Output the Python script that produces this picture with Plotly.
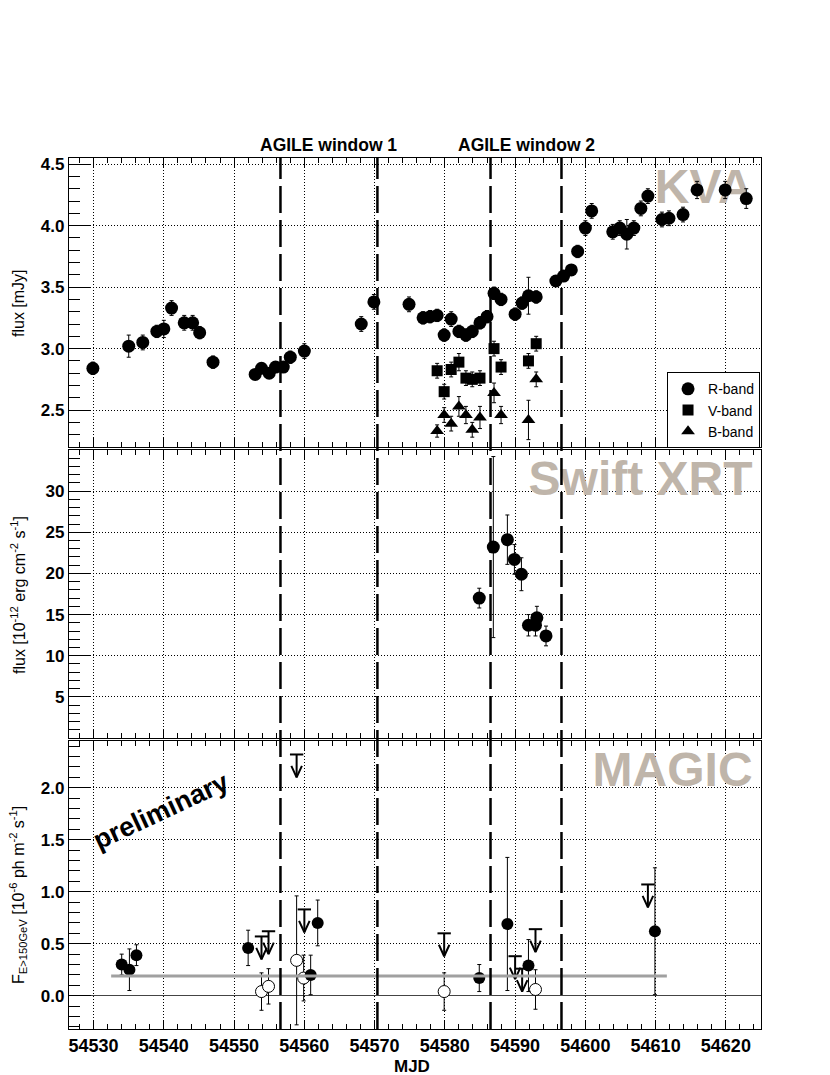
import numpy as np
import plotly.graph_objects as go
from plotly.subplots import make_subplots

# KVA optical (flux in mJy)
r_mjd = [54529.9, 54535.0, 54537.0, 54539.0, 54540.0, 54541.1, 54542.9, 54544.1, 54545.1, 54547.0,
         54553.0, 54553.9, 54555.0, 54555.9, 54557.0, 54558.0, 54560.0, 54568.1, 54569.9, 54574.9,
         54576.9, 54577.9, 54578.9, 54579.9, 54580.9, 54582.0, 54583.0, 54583.9, 54585.0, 54586.0,
         54587.0, 54588.0, 54590.0, 54591.0, 54591.9, 54593.0, 54595.8, 54596.9, 54598.0, 54598.9,
         54600.0, 54600.9, 54603.9, 54604.9, 54605.9, 54606.9, 54607.9, 54608.9, 54610.9, 54611.9,
         54613.9, 54615.9, 54619.9, 54622.9]
r_flux = [2.84, 3.02, 3.05, 3.14, 3.16, 3.33, 3.21, 3.21, 3.13, 2.89,
          2.79, 2.84, 2.80, 2.85, 2.85, 2.93, 2.98, 3.20, 3.38, 3.36,
          3.25, 3.26, 3.27, 3.11, 3.24, 3.14, 3.11, 3.14, 3.21, 3.26,
          3.45, 3.40, 3.28, 3.37, 3.43, 3.42, 3.55, 3.59, 3.64, 3.79,
          3.98, 4.12, 3.95, 3.98, 3.93, 3.98, 4.14, 4.24, 4.05, 4.06,
          4.09, 4.29, 4.29, 4.22]
r_err = [0.05, 0.09, 0.06, 0.05, 0.07, 0.06, 0.06, 0.06, 0.05, 0.05,
         0.04, 0.04, 0.04, 0.04, 0.04, 0.05, 0.06, 0.06, 0.06, 0.06,
         0.05, 0.05, 0.05, 0.05, 0.06, 0.05, 0.05, 0.05, 0.05, 0.05,
         0.05, 0.05, 0.05, 0.05, 0.15, 0.05, 0.04, 0.04, 0.04, 0.05,
         0.06, 0.06, 0.06, 0.06, 0.12, 0.06, 0.06, 0.06, 0.06, 0.06,
         0.06, 0.07, 0.07, 0.08]

v_mjd = [54578.9, 54579.9, 54580.9, 54582.0, 54583.0, 54583.9, 54585.0, 54587.0, 54588.0, 54591.9, 54593.0]
v_flux = [2.82, 2.65, 2.83, 2.89, 2.76, 2.75, 2.76, 3.00, 2.85, 2.90, 3.04]
v_err = [0.06, 0.06, 0.06, 0.07, 0.06, 0.06, 0.06, 0.06, 0.06, 0.06, 0.06]

b_mjd = [54578.9, 54579.9, 54580.9, 54582.0, 54583.0, 54583.9, 54585.0, 54587.0, 54588.0, 54591.9, 54593.0]
b_flux = [2.33, 2.46, 2.39, 2.53, 2.46, 2.34, 2.44, 2.64, 2.46, 2.42, 2.75]
b_err = [0.05, 0.06, 0.06, 0.08, 0.07, 0.06, 0.09, 0.08, 0.07, 0.16, 0.06]

# Swift XRT (1e-12 erg cm-2 s-1)
xrt_mjd = [54584.9, 54586.9, 54588.9, 54589.9, 54590.9, 54591.9, 54592.9, 54593.1, 54594.4]
xrt_flux = [17.0, 23.2, 24.1, 21.7, 19.9, 13.7, 13.7, 14.6, 12.4]
xrt_err = [1.2, 11.0, 3.0, 1.8, 2.0, 1.3, 1.3, 1.4, 1.2]

# MAGIC (1e-6 ph m-2 s-1)
magic_mjd = [54534.0, 54535.1, 54536.1, 54552.0, 54560.9, 54561.9, 54584.9, 54588.9, 54591.9, 54609.9]
magic_flux = [0.30, 0.25, 0.39, 0.46, 0.20, 0.70, 0.17, 0.69, 0.29, 0.62]
magic_err = [0.10, 0.20, 0.10, 0.17, 0.19, 0.22, 0.13, 0.64, 0.25, 0.61]

magic_open_mjd = [54553.9, 54554.9, 54558.9, 54559.9, 54579.9, 54592.9]
magic_open_flux = [0.04, 0.09, 0.34, 0.17, 0.04, 0.06]
magic_open_err = [0.18, 0.17, 0.62, 0.22, 0.18, 0.19]

ul_mjd = [54553.9, 54554.9, 54558.9, 54560.0, 54579.9, 54590.0, 54591.0, 54592.9, 54608.9]
ul_flux = [0.57, 0.62, 2.32, 0.83, 0.60, 0.38, 0.26, 0.64, 1.07]

magic_mean = 0.19
magic_mean_span = [54532.5, 54611.6]

agile_windows = [(54556.6, 54570.4), (54586.5, 54596.6)]
agile_labels = ["AGILE window 1", "AGILE window 2"]

x_range = [54526.5, 54625]
y_ranges = [[2.2, 4.55], [0, 35], [-0.32, 2.45]]
y_ticks = [[2.5, 3.0, 3.5, 4.0, 4.5], [5, 10, 15, 20, 25, 30], [0.0, 0.5, 1.0, 1.5, 2.0]]
y_minor = [0.1, 1, 0.1]
y_fmt = ['.1f', 'd', '.1f']
panel_names = ["KVA", "Swift XRT", "MAGIC"]

FONT = "Liberation Sans, Arial, Helvetica, sans-serif"
LABEL_GRAY = "#BFB5AA"
GRID_DASH = "1px,2px"

fig = make_subplots(rows=3, cols=1, shared_xaxes=True, vertical_spacing=0.004)

# big instrument labels drawn first so markers sit on top of them
for i, name in enumerate(panel_names):
    lo, hi = y_ranges[i]
    fig.add_trace(go.Scatter(
        x=[x_range[1] - 1.2], y=[hi - 0.114 * (hi - lo)], mode="text", text=[name],
        textposition="middle left", showlegend=False, hoverinfo="skip",
        textfont=dict(family=FONT, size=48, color=LABEL_GRAY, weight="bold")
    ), row=i + 1, col=1)

err_style = dict(type="data", color="black", thickness=1, width=2)

fig.add_trace(go.Scatter(x=r_mjd, y=r_flux, mode="markers", name="R-band",
                         error_y=dict(array=r_err, **err_style),
                         marker=dict(symbol="circle", size=13, color="black")), row=1, col=1)
fig.add_trace(go.Scatter(x=v_mjd, y=v_flux, mode="markers", name="V-band",
                         error_y=dict(array=v_err, **err_style),
                         marker=dict(symbol="square", size=11, color="black")), row=1, col=1)
fig.add_trace(go.Scatter(x=b_mjd, y=b_flux, mode="markers", name="B-band",
                         error_y=dict(array=b_err, **err_style),
                         marker=dict(symbol="triangle-up", size=12, color="black")), row=1, col=1)

fig.add_trace(go.Scatter(x=xrt_mjd, y=xrt_flux, mode="markers", showlegend=False,
                         error_y=dict(array=xrt_err, **err_style),
                         marker=dict(symbol="circle", size=13, color="black")), row=2, col=1)

fig.add_trace(go.Scatter(x=magic_open_mjd, y=magic_open_flux, mode="markers", showlegend=False,
                         error_y=dict(array=magic_open_err, **err_style),
                         marker=dict(symbol="circle", size=12, color="white",
                                     line=dict(color="black", width=1))), row=3, col=1)
fig.add_trace(go.Scatter(x=magic_mjd, y=magic_flux, mode="markers", showlegend=False,
                         error_y=dict(array=magic_err, **err_style),
                         marker=dict(symbol="circle", size=12, color="black")), row=3, col=1)

# upper-limit arrows: bar + shaft + open head
ax, ay = [], []
for x, y in zip(ul_mjd, ul_flux):
    ax += [x - 0.95, x + 0.95, None, x, x, None, x - 0.75, x, x + 0.75, None]
    ay += [y, y, None, y, y - 0.22, None, y - 0.11, y - 0.22, y - 0.11, None]
fig.add_trace(go.Scatter(x=ax, y=ay, mode="lines", showlegend=False, hoverinfo="skip",
                         line=dict(color="black", width=2)), row=3, col=1)

fig.add_trace(go.Scatter(x=magic_mean_span, y=[magic_mean, magic_mean], mode="lines",
                         showlegend=False, line=dict(color="#A0A0A0", width=3)), row=3, col=1)

# AGILE windows
for (w0, w1), lab in zip(agile_windows, agile_labels):
    for xv in (w0, w1):
        fig.add_shape(type="line", xref="x3", yref="paper", x0=xv, x1=xv, y0=0, y1=1,
                      line=dict(color="black", width=2.5, dash="27px,7px"))
    fig.add_annotation(x=(w0 + w1) / 2, y=1, xref="x3", yref="paper", text=lab,
                       showarrow=False, yanchor="bottom", xanchor="center", yshift=1,
                       font=dict(family=FONT, size=17.5, color="black", weight="bold"))

tick_font = dict(family=FONT, size=17, color="black", weight="bold")

fig.update_xaxes(range=x_range, tick0=54530, dtick=10, tickformat="d",
                 ticks="inside", ticklen=9, tickwidth=1, tickcolor="black",
                 showline=True, linecolor="black", linewidth=1.3, mirror="allticks",
                 showgrid=True, gridcolor="black", griddash=GRID_DASH, gridwidth=1, zeroline=False,
                 minor=dict(dtick=2, ticklen=5, ticks="inside", tickcolor="black", showgrid=False),
                 tickfont=dict(family=FONT, size=18, color="black", weight="bold"))
fig.update_xaxes(showticklabels=False, row=1, col=1)
fig.update_xaxes(showticklabels=False, row=2, col=1)

for i in range(3):
    lo, hi = y_ranges[i]
    fig.update_yaxes(range=y_ranges[i], tickmode="array", tickvals=y_ticks[i], tickformat=y_fmt[i],
                     ticks="inside", ticklen=22, tickwidth=1, tickcolor="black",
                     showline=True, linecolor="black", linewidth=1.3, mirror=True,
                     showgrid=True, gridcolor="black", griddash=GRID_DASH, gridwidth=1,
                     zeroline=(i == 2), zerolinecolor="#444444", zerolinewidth=1,
                     minor=dict(tickmode="array", ticks="inside", ticklen=11, tickcolor="black",
                                showgrid=False,
                                tickvals=list(np.round(np.arange(np.ceil(lo / y_minor[i]) * y_minor[i],
                                                                 hi, y_minor[i]), 3))),
                     tickfont=tick_font, row=i + 1, col=1)

fig.update_layout(
    yaxis=dict(domain=[0.6682, 1.0]),
    yaxis2=dict(domain=[0.3341, 0.6648]),
    yaxis3=dict(domain=[0.0, 0.3307]),
)

# axis titles
title_font = dict(family=FONT, size=16, color="black")
for txt, yc in [("flux [mJy]", 0.8335),
                ("flux [10<sup>-12</sup> erg cm<sup>-2</sup> s<sup>-1</sup>]", 0.4983),
                ("F<sub>E&gt;150GeV</sub> [10<sup>-6</sup> ph m<sup>-2</sup> s<sup>-1</sup>]", 0.1538)]:
    fig.add_annotation(text=txt, xref="paper", yref="paper", x=-0.0737, y=yc,
                       xanchor="center", yanchor="middle",
                       textangle=-90, showarrow=False, font=title_font)
fig.add_annotation(text="MJD", xref="paper", yref="paper", x=0.4957, y=-0.0436,
                   xanchor="center", yanchor="middle", showarrow=False,
                   font=dict(family=FONT, size=17, color="black", weight="bold"))
fig.add_annotation(text="preliminary", xref="x3", yref="y3", x=54539.6, y=1.78,
                   xanchor="center", yanchor="middle", textangle=-25, showarrow=False,
                   font=dict(family=FONT, size=27, color="black", weight="bold"))

# the page body adds an 8px offset, so the figure is 8px smaller on each axis
fig.update_layout(
    width=822, height=1067,
    margin=dict(l=61, r=69, t=150, b=46),
    plot_bgcolor="white", paper_bgcolor="white",
    font=dict(family=FONT, color="black"),
    legend=dict(x=0.9986, y=0.754, xanchor="right", yanchor="top",
                bgcolor="white", bordercolor="black", borderwidth=1,
                itemwidth=30, tracegroupgap=0,
                font=dict(family=FONT, size=14, color="black")),
)

fig.write_html("out.html")
